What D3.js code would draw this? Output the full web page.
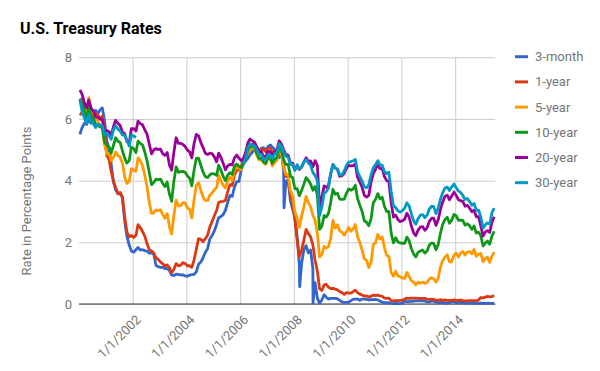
<!DOCTYPE html>
<html><head><meta charset="utf-8">
<script src="https://cdn.jsdelivr.net/npm/d3@7"></script>
<style>
body{margin:0;background:#fff}
svg{display:block;font-family:Roboto,Arial,sans-serif}
</style>
</head><body>
<svg id="chart" width="600" height="371"></svg>
<script>
// ---------- DATA (monthly averages, mid-month, Jan 2000 – Jun 2015) ----------
const seriesNames = ["3-month", "1-year", "5-year", "10-year", "20-year", "30-year"];
const colors = ["#3366cc", "#dc3912", "#ff9900", "#109618", "#990099", "#0099c6"];
const yTicks = [0, 2, 4, 6, 8];
const xTickLabels = ["1/1/2002", "1/1/2004", "1/1/2006", "1/1/2008", "1/1/2010", "1/1/2012", "1/1/2014"];
const firstMonth = [2000, 0];
const dateRange = ["2000-01-03", "2015-06-30"];

const threeMonth = [
5.50,5.73,5.86,5.82,5.99,5.86,6.14,6.28,6.18,6.29,6.36,5.94,
5.29,5.01,4.54,3.97,3.70,3.57,3.59,3.44,2.69,2.20,1.91,1.72,
1.68,1.76,1.83,1.75,1.76,1.73,1.71,1.65,1.66,1.61,1.25,1.21,
1.19,1.19,1.15,1.15,1.09,0.94,0.92,0.97,0.96,0.94,0.95,0.91,
0.90,0.94,0.95,0.96,1.04,1.29,1.36,1.50,1.68,1.79,2.11,2.22,
2.37,2.58,2.80,2.84,2.90,3.04,3.29,3.52,3.49,3.79,3.97,3.97,
4.34,4.54,4.63,4.72,4.84,4.92,5.08,5.09,4.93,5.05,5.07,4.97,
5.11,5.16,5.08,5.01,4.87,4.74,4.96,4.32,3.99,4.00,3.35,3.07,
2.82,2.17,1.28,1.31,1.76,1.89,1.66,1.75,1.15,0.69,0.19,0.03,
0.13,0.30,0.22,0.16,0.18,0.18,0.18,0.17,0.12,0.07,0.05,0.05,
0.06,0.11,0.15,0.16,0.16,0.12,0.16,0.16,0.15,0.13,0.14,0.14,
0.15,0.13,0.10,0.06,0.04,0.04,0.04,0.02,0.01,0.02,0.01,0.01,
0.03,0.09,0.08,0.08,0.09,0.09,0.10,0.10,0.11,0.10,0.09,0.07,
0.07,0.10,0.09,0.06,0.04,0.05,0.04,0.04,0.02,0.05,0.07,0.07,
0.04,0.05,0.05,0.03,0.03,0.04,0.03,0.03,0.02,0.02,0.02,0.03,
0.03,0.02,0.03,0.02,0.02,0.02];

const oneYear = [
6.12,6.22,6.22,6.15,6.33,6.17,6.08,6.18,6.13,6.01,6.09,5.60,
4.81,4.68,4.30,3.98,3.78,3.58,3.62,3.47,2.82,2.33,2.18,2.22,
2.16,2.23,2.57,2.48,2.35,2.20,1.96,1.76,1.72,1.65,1.49,1.45,
1.36,1.30,1.24,1.27,1.18,1.01,1.12,1.31,1.24,1.25,1.34,1.31,
1.24,1.24,1.19,1.43,1.78,2.12,2.10,2.02,2.12,2.23,2.50,2.67,
2.86,3.03,3.30,3.32,3.33,3.36,3.64,3.87,3.85,4.18,4.33,4.35,
4.45,4.68,4.77,4.90,5.00,5.16,5.22,5.08,4.97,5.01,5.01,4.94,
5.06,5.05,4.92,4.93,4.91,4.96,4.96,4.47,4.14,4.10,3.50,3.26,
2.71,2.05,1.54,1.74,2.06,2.42,2.28,2.18,1.91,1.42,1.07,0.49,
0.44,0.62,0.64,0.55,0.50,0.51,0.48,0.46,0.40,0.37,0.31,0.37,
0.35,0.35,0.40,0.45,0.37,0.32,0.29,0.26,0.26,0.23,0.25,0.29,
0.27,0.29,0.26,0.25,0.19,0.18,0.19,0.11,0.10,0.11,0.11,0.12,
0.12,0.16,0.19,0.18,0.19,0.19,0.19,0.18,0.18,0.18,0.18,0.16,
0.15,0.16,0.15,0.12,0.12,0.14,0.12,0.13,0.12,0.12,0.12,0.13,
0.12,0.12,0.13,0.11,0.10,0.10,0.11,0.11,0.11,0.10,0.13,0.21,
0.20,0.22,0.25,0.23,0.24,0.28];

const fiveYear = [
6.58,6.68,6.50,6.26,6.69,6.30,6.18,6.06,5.93,5.78,5.70,5.17,
4.86,4.89,4.64,4.76,4.93,4.81,4.76,4.57,4.12,3.91,3.97,4.39,
4.34,4.30,4.74,4.65,4.49,4.19,3.81,3.29,2.94,2.95,3.05,3.03,
3.05,2.90,2.78,2.93,2.52,2.27,2.87,3.37,3.18,3.19,3.29,3.27,
3.12,3.07,2.79,3.39,3.85,3.93,3.69,3.47,3.36,3.35,3.53,3.60,
3.71,3.77,4.17,4.00,3.85,3.77,3.98,4.12,4.01,4.33,4.45,4.39,
4.35,4.57,4.72,4.90,5.00,5.07,5.04,4.82,4.67,4.69,4.58,4.53,
4.75,4.71,4.48,4.59,4.67,5.03,4.88,4.43,4.20,4.20,3.67,3.49,
2.98,2.78,2.48,2.84,3.15,3.49,3.30,3.14,2.88,2.73,2.29,1.52,
1.60,1.87,1.82,1.86,2.13,2.71,2.46,2.57,2.37,2.33,2.23,2.34,
2.48,2.36,2.43,2.58,2.18,2.00,1.76,1.47,1.41,1.18,1.35,1.93,
1.99,2.26,2.11,2.17,1.84,1.58,1.54,1.02,0.90,1.06,0.91,0.89,
0.84,0.83,1.02,0.89,0.76,0.71,0.62,0.71,0.67,0.71,0.67,0.70,
0.81,0.85,0.82,0.71,0.84,1.20,1.40,1.52,1.60,1.37,1.37,1.58,
1.65,1.52,1.64,1.70,1.59,1.68,1.70,1.63,1.77,1.55,1.62,1.64,
1.37,1.47,1.52,1.35,1.54,1.68];

const tenYear = [
6.66,6.52,6.26,5.99,6.44,6.10,6.05,5.83,5.80,5.74,5.72,5.24,
5.16,5.10,4.89,5.14,5.39,5.28,5.24,4.97,4.73,4.57,4.65,5.09,
5.04,4.91,5.28,5.21,5.16,4.93,4.65,4.26,3.87,3.94,4.05,4.03,
4.05,3.90,3.81,3.96,3.57,3.33,3.98,4.45,4.27,4.29,4.30,4.27,
4.15,4.08,3.83,4.35,4.72,4.73,4.50,4.28,4.13,4.10,4.19,4.23,
4.22,4.17,4.50,4.34,4.14,4.00,4.18,4.26,4.20,4.46,4.54,4.47,
4.42,4.57,4.72,4.99,5.11,5.11,5.09,4.88,4.72,4.73,4.60,4.56,
4.76,4.72,4.56,4.69,4.75,5.10,5.00,4.67,4.52,4.53,4.15,4.10,
3.74,3.74,3.51,3.68,3.88,4.10,4.01,3.89,3.69,3.81,3.53,2.42,
2.52,2.87,2.82,2.93,3.29,3.72,3.56,3.59,3.40,3.39,3.40,3.59,
3.73,3.69,3.73,3.85,3.42,3.20,3.01,2.70,2.65,2.54,2.76,3.29,
3.39,3.58,3.41,3.46,3.17,3.00,3.00,2.30,1.98,2.15,2.01,1.98,
1.97,1.97,2.17,2.05,1.80,1.62,1.53,1.68,1.72,1.75,1.65,1.72,
1.91,1.98,1.96,1.76,1.93,2.30,2.58,2.74,2.81,2.62,2.72,2.90,
2.86,2.71,2.72,2.71,2.56,2.60,2.54,2.42,2.53,2.30,2.33,2.21,
1.88,1.98,2.04,1.94,2.20,2.36];

const twentyYear = [
6.94,6.80,6.53,6.36,6.62,6.35,6.26,6.07,6.06,6.00,5.97,5.56,
5.63,5.59,5.46,5.75,5.96,5.86,5.79,5.57,5.52,5.27,5.21,5.69,
5.69,5.61,5.93,5.85,5.81,5.65,5.51,5.19,4.87,5.00,5.04,5.01,
5.02,4.87,4.82,4.91,4.52,4.34,4.92,5.39,5.21,5.21,5.17,5.11,
4.99,4.93,4.74,5.21,5.50,5.45,5.24,5.07,4.89,4.85,4.89,4.88,
4.77,4.61,4.89,4.75,4.56,4.35,4.48,4.53,4.51,4.74,4.83,4.73,
4.65,4.73,4.91,5.22,5.35,5.29,5.25,5.08,4.93,4.94,4.78,4.78,
4.95,4.93,4.81,4.95,4.98,5.29,5.19,5.00,4.84,4.83,4.56,4.57,
4.35,4.49,4.36,4.44,4.60,4.74,4.62,4.64,4.45,4.65,4.49,3.18,
3.46,3.83,3.78,3.84,4.22,4.52,4.41,4.37,4.14,4.16,4.24,4.40,
4.50,4.48,4.49,4.53,4.11,3.95,3.80,3.52,3.47,3.52,3.96,4.23,
4.37,4.52,4.39,4.40,4.14,4.00,3.97,3.29,2.82,2.88,2.74,2.67,
2.70,2.75,2.94,2.82,2.53,2.31,2.22,2.40,2.49,2.51,2.39,2.47,
2.68,2.78,2.78,2.55,2.73,3.07,3.31,3.49,3.53,3.38,3.50,3.63,
3.52,3.38,3.35,3.33,3.17,3.20,3.11,2.99,3.04,2.83,2.83,2.53,
2.20,2.34,2.38,2.32,2.65,2.83];

const thirtyYear = [
6.63,6.23,6.05,5.85,6.15,5.93,5.85,5.72,5.83,5.80,5.78,5.49,
5.54,5.45,5.34,5.65,5.78,5.67,5.61,5.48,5.48,5.32,5.12,5.48,
5.45,5.40,null,null,null,null,null,null,null,null,null,null,
null,null,null,null,null,null,null,null,null,null,null,null,
null,null,null,null,null,null,null,null,null,null,null,null,
null,null,null,null,null,null,null,null,null,null,null,null,
null,4.54,4.73,5.06,5.20,5.15,5.13,5.00,4.85,4.85,4.69,4.68,
4.85,4.82,4.72,4.87,4.90,5.20,5.11,4.93,4.79,4.77,4.52,4.53,
4.33,4.52,4.39,4.44,4.60,4.69,4.57,4.50,4.27,4.17,4.00,2.87,
3.13,3.59,3.64,3.76,4.23,4.52,4.41,4.37,4.19,4.19,4.31,4.49,
4.60,4.62,4.64,4.69,4.29,4.13,3.99,3.80,3.77,3.87,4.19,4.42,
4.52,4.65,4.51,4.50,4.29,4.23,4.27,3.65,3.18,3.13,3.02,2.98,
3.03,3.11,3.28,3.18,2.93,2.70,2.59,2.77,2.88,2.90,2.80,2.88,
3.08,3.17,3.16,2.93,3.11,3.40,3.61,3.76,3.79,3.68,3.80,3.89,
3.77,3.66,3.62,3.52,3.39,3.42,3.33,3.20,3.26,3.04,3.04,2.83,
2.46,2.57,2.63,2.59,2.96,3.11];

// daily extremes visible in the 3-month series
const threeMonthSpikes = [["2007-08-20", 3.12], ["2008-03-20", 0.56], ["2008-09-17", 0.03]];

// ---------- BUILD ----------
const svg = d3.select("#chart");
const plot = {left: 79, right: 495.3, top: 57.3, bottom: 304};
const textGray = "#757575";
const parseISO = d3.timeParse("%Y-%m-%d");
const parseTick = d3.timeParse("%m/%d/%Y");

const x = d3.scaleTime()
  .domain(dateRange.map(parseISO))
  .range([plot.left, plot.right]);
const y = d3.scaleLinear().domain([0, 8]).range([plot.bottom, plot.top]);

const months = threeMonth.map((_, i) => new Date(firstMonth[0], firstMonth[1] + i, 15));
const allSeries = [threeMonth, oneYear, fiveYear, tenYear, twentyYear, thirtyYear];
const seriesData = allSeries.map((vals, si) => {
  let pts = vals.map((v, i) => ({d: months[i], v: v}));
  if (si === 0) {
    threeMonthSpikes.forEach(s => pts.push({d: parseISO(s[0]), v: s[1]}));
    pts.sort((a, b) => a.d - b.d);
  }
  return pts;
});

// title
svg.append("text").attr("x", 20).attr("y", 34)
  .attr("font-size", 16).attr("font-weight", "bold").attr("fill", "#000")
  .text("U.S. Treasury Rates");

// y axis / horizontal gridlines
const yAxis = svg.append("g").attr("transform", `translate(${plot.left},0)`)
  .call(d3.axisLeft(y).tickValues(yTicks).tickSize(-(plot.right - plot.left)).tickPadding(7));
yAxis.select(".domain").remove();
yAxis.selectAll(".tick line").attr("stroke", "#cccccc");
yAxis.selectAll(".tick text").attr("font-size", 13).attr("fill", textGray)
  .attr("font-family", "Roboto, Arial, sans-serif");

// x axis / vertical gridlines
const xAxis = svg.append("g").attr("transform", `translate(0,${plot.bottom})`)
  .call(d3.axisBottom(x).tickValues(xTickLabels.map(parseTick))
        .tickSize(-(plot.bottom - plot.top)).tickFormat((d, i) => xTickLabels[i]));
xAxis.select(".domain").remove();
xAxis.selectAll(".tick line").attr("stroke", "#cccccc");
xAxis.selectAll(".tick text")
  .attr("font-size", 13).attr("fill", textGray).attr("font-family", "Roboto, Arial, sans-serif")
  .attr("text-anchor", "end").attr("x", 0).attr("y", 0).attr("dy", null)
  .attr("transform", "translate(8.5,16.5) rotate(-45)");

// baseline
svg.append("line")
  .attr("x1", plot.left).attr("x2", plot.right)
  .attr("y1", y(0)).attr("y2", y(0))
  .attr("stroke", "#333").attr("stroke-width", 1);

// y axis title
svg.append("text")
  .attr("transform", "translate(31,201) rotate(-90)")
  .attr("text-anchor", "middle").attr("font-size", 13).attr("fill", textGray)
  .text("Rate in Percentage Points");

// lines
const line = d3.line()
  .defined(p => p.v != null)
  .x(p => x(p.d)).y(p => y(p.v));
svg.append("g").selectAll("path").data(seriesData).join("path")
  .attr("d", line)
  .attr("fill", "none")
  .attr("stroke", (d, i) => colors[i])
  .attr("stroke-width", 2.8)
  .attr("stroke-linejoin", "round");

// legend
const legend = svg.append("g").selectAll("g").data(seriesNames).join("g")
  .attr("transform", (d, i) => `translate(515,${56.7 + i * 25.2})`);
legend.append("rect").attr("x", 0).attr("y", -1.5).attr("width", 13).attr("height", 3)
  .attr("fill", (d, i) => colors[i]);
legend.append("text").attr("x", 20).attr("dy", "0.35em")
  .attr("font-size", 13).attr("fill", textGray).text(d => d);
</script>
</body></html>
